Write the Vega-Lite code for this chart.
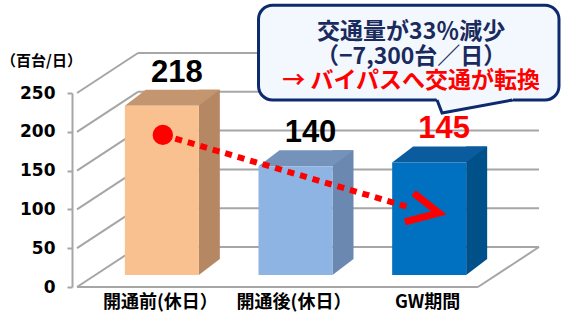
{
  "$schema": "https://vega.github.io/schema/vega-lite/v6.json",
  "width": 411,
  "height": 194,
  "autosize": "none",
  "padding": {"left": 72, "top": 93, "right": 87, "bottom": 32},
  "background": "white",
  "config": {"view": {"stroke": null}},
  "datasets": {
    "bars": [
      {"cat": "開通前(休日）", "x": 1, "v": 218},
      {"cat": "開通後(休日）", "x": 2, "v": 140},
      {"cat": "GW期間", "x": 3, "v": 145}
    ],
    "grid": [{"v": 0}, {"v": 50}, {"v": 100}, {"v": 150}, {"v": 200}, {"v": 250}],
    "arrowLine": [{"x": 1.142, "v": 196}, {"x": 3.004, "v": 101.8}],
    "chevron": [{"i": 1, "x": 3.018, "v": 121}, {"i": 2, "x": 3.208, "v": 95.4}, {"i": 3, "x": 2.953, "v": 83.8}],
    "circle": [{"x": 1.142, "v": 196}],
    "box": [{"x": 1.858, "x2": 4.106, "v": 363, "v2": 241}],
    "tail": [{"x": 3.478, "v": 234.5}],
    "callout": [
      {"line": "交通量が33％減少", "x": 3.0, "v": 329},
      {"line": "（−7,300台／日）", "x": 3.0, "v": 297},
      {"line": "→ バイパスへ交通が転換", "x": 3.0, "v": 265}
    ]
  },
  "resolve": {"axis": {"x": "independent", "y": "independent"}},
  "layer": [
    {
      "data": {"name": "grid"},
      "mark": {"type": "rule", "color": "#A6A6A6", "strokeWidth": 2, "xOffset": 61, "x2Offset": 61, "yOffset": -40},
      "encoding": {
        "x": {"datum": 0.5, "type": "quantitative", "scale": {"domain": [0.5, 3.5], "nice": false, "zero": false},
          "axis": {"values": [1, 2, 3], "domain": false, "ticks": false, "grid": false, "title": null,
            "labelExpr": "datum.value == 1 ? '開通前(休日）' : datum.value == 2 ? '開通後(休日）' : 'GW期間'",
            "labelOffset": 16, "labelPadding": 6, "labelFont": "Noto Sans CJK JP", "labelFontSize": 18,
            "labelFontWeight": "bold", "labelColor": "#000000", "labelBaseline": "top"}},
        "x2": {"datum": 3.5},
        "y": {"field": "v", "type": "quantitative", "scale": {"domain": [0, 250], "nice": false},
          "axis": {"values": [0, 50, 100, 150, 200, 250], "grid": false, "domainColor": "#A6A6A6", "domainWidth": 2,
            "tickColor": "#A6A6A6", "tickWidth": 2, "tickSize": 5, "labelPadding": 12,
            "labelFont": "DejaVu Sans", "labelFontSize": 17, "labelFontWeight": "bold", "labelColor": "#000000",
            "title": "（百台/日）", "titleAngle": 0, "titleX": -31, "titleY": -33, "titleAlign": "center",
            "titleBaseline": "middle", "titleFont": "Noto Sans CJK JP", "titleFontSize": 15, "titleFontWeight": "bold",
            "titleColor": "#000000"}}
      }
    },
    {
      "data": {"name": "grid"},
      "mark": {"type": "rule", "color": "#A6A6A6", "strokeWidth": 2, "x2Offset": 61, "y2Offset": -40},
      "encoding": {
        "x": {"datum": 0.5, "type": "quantitative", "axis": null},
        "x2": {"datum": 0.5},
        "y": {"field": "v", "type": "quantitative", "axis": null},
        "y2": {"field": "v"}
      }
    },
    {
      "data": {"values": [{"v": 0}]},
      "mark": {"type": "rule", "color": "#A6A6A6", "strokeWidth": 2, "x2Offset": 61, "y2Offset": -40},
      "encoding": {
        "x": {"datum": 3.5, "type": "quantitative", "axis": null},
        "x2": {"datum": 3.5},
        "y": {"field": "v", "type": "quantitative", "axis": null},
        "y2": {"field": "v"}
      }
    },
    {
      "data": {"values": [{"v": 0}]},
      "mark": {"type": "rule", "color": "#A6A6A6", "strokeWidth": 2},
      "encoding": {
        "x": {"datum": 0.5, "type": "quantitative", "axis": null},
        "x2": {"datum": 3.5},
        "y": {"field": "v", "type": "quantitative", "axis": null}
      }
    },
    {
      "data": {"name": "bars"},
      "mark": {"type": "bar", "size": 21, "xOffset": 65.5, "yOffset": -28, "y2Offset": -28},
      "encoding": {
        "x": {"field": "x", "type": "quantitative", "axis": null},
        "y": {"field": "v", "type": "quantitative", "axis": null},
        "y2": {"datum": 0},
        "fill": {"condition": [{"test": "datum.x == 1", "value": "#B58763"}, {"test": "datum.x == 2", "value": "#6A88B0"}], "value": "#00508A"}
      }
    },
    {
      "data": {"name": "bars"},
      "mark": {"type": "point", "shape": "M 0.55 -0.12 L 0.55 -0.28 L 0.76 -0.28 Z", "filled": true, "size": 40000, "opacity": 1, "strokeWidth": 0},
      "encoding": {
        "x": {"field": "x", "type": "quantitative", "axis": null},
        "y": {"datum": 0, "type": "quantitative", "axis": null},
        "fill": {"condition": [{"test": "datum.x == 1", "value": "#B58763"}, {"test": "datum.x == 2", "value": "#6A88B0"}], "value": "#00508A"}
      }
    },
    {
      "data": {"name": "bars"},
      "mark": {"type": "point", "shape": "M -0.19 -0.12 L 0.55 -0.12 L 0.76 -0.28 L 0.02 -0.28 Z", "filled": true, "size": 40000, "opacity": 1, "strokeWidth": 0},
      "encoding": {
        "x": {"field": "x", "type": "quantitative", "axis": null},
        "y": {"field": "v", "type": "quantitative", "axis": null},
        "fill": {"condition": [{"test": "datum.x == 1", "value": "#C49670"}, {"test": "datum.x == 2", "value": "#7592BA"}], "value": "#0A5C9E"}
      }
    },
    {
      "data": {"name": "bars"},
      "mark": {"type": "bar", "size": 74, "xOffset": 18, "yOffset": -12, "y2Offset": -12},
      "encoding": {
        "x": {"field": "x", "type": "quantitative", "axis": null},
        "y": {"field": "v", "type": "quantitative", "axis": null},
        "y2": {"datum": 0},
        "color": {"field": "cat", "type": "nominal", "legend": null,
          "scale": {"domain": ["開通前(休日）", "開通後(休日）", "GW期間"], "range": ["#F9C190", "#8DB4E2", "#0070C0"]}}
      }
    },
    {
      "data": {"name": "bars"},
      "mark": {"type": "text", "font": "Liberation Sans", "fontWeight": "bold", "fontSize": 31, "dx": 33, "dy": -36, "baseline": "alphabetic", "align": "center"},
      "encoding": {
        "x": {"field": "x", "type": "quantitative", "axis": null},
        "y": {"field": "v", "type": "quantitative", "axis": null},
        "text": {"field": "v", "type": "quantitative"},
        "color": {"condition": {"test": "datum.cat === 'GW期間'", "value": "#FF0000"}, "value": "#000000"}
      }
    },
    {
      "data": {"name": "arrowLine"},
      "mark": {"type": "line", "color": "#FF0000", "strokeWidth": 6, "strokeDash": [7, 6]},
      "encoding": {
        "x": {"field": "x", "type": "quantitative", "axis": null},
        "y": {"field": "v", "type": "quantitative", "axis": null}
      }
    },
    {
      "data": {"name": "chevron"},
      "mark": {"type": "line", "color": "#FF0000", "strokeWidth": 7, "strokeJoin": "miter", "strokeCap": "butt"},
      "encoding": {
        "x": {"field": "x", "type": "quantitative", "axis": null},
        "y": {"field": "v", "type": "quantitative", "axis": null},
        "order": {"field": "i"}
      }
    },
    {
      "data": {"name": "circle"},
      "mark": {"type": "point", "shape": "circle", "filled": true, "color": "#FF0000", "size": 415, "opacity": 1},
      "encoding": {
        "x": {"field": "x", "type": "quantitative", "axis": null},
        "y": {"field": "v", "type": "quantitative", "axis": null}
      }
    },
    {
      "data": {"name": "box"},
      "mark": {"type": "rect", "fill": "#F2F8FD", "stroke": "#0E2A6E", "strokeWidth": 3, "cornerRadius": 14},
      "encoding": {
        "x": {"field": "x", "type": "quantitative", "axis": null},
        "x2": {"field": "x2"},
        "y": {"field": "v", "type": "quantitative", "axis": null},
        "y2": {"field": "v2"}
      }
    },
    {
      "data": {"name": "tail"},
      "mark": {"type": "point", "shape": "M -0.78 -0.16 L -0.76 -0.1 L -0.66 0.16 L 0.74 -0.1 L 0.78 -0.16 Z", "filled": true, "color": "#F2F8FD", "size": 10000, "opacity": 1},
      "encoding": {
        "x": {"field": "x", "type": "quantitative", "axis": null},
        "y": {"field": "v", "type": "quantitative", "axis": null}
      }
    },
    {
      "data": {"name": "tail"},
      "mark": {"type": "point", "shape": "M -0.76 -0.1 L -0.66 0.16 L 0.74 -0.1", "filled": false, "color": "#0E2A6E", "strokeWidth": 3, "size": 10000, "opacity": 1},
      "encoding": {
        "x": {"field": "x", "type": "quantitative", "axis": null},
        "y": {"field": "v", "type": "quantitative", "axis": null}
      }
    },
    {
      "data": {"name": "callout"},
      "mark": {"type": "text", "font": "Noto Sans CJK JP", "fontWeight": "bold", "fontSize": 23, "align": "center", "baseline": "middle"},
      "encoding": {
        "x": {"field": "x", "type": "quantitative", "axis": null},
        "y": {"field": "v", "type": "quantitative", "axis": null},
        "text": {"field": "line"},
        "color": {"condition": {"test": "indexof(datum.line, 'バイパス') >= 0", "value": "#FF0000"}, "value": "#1B2A5C"}
      }
    }
  ]
}
